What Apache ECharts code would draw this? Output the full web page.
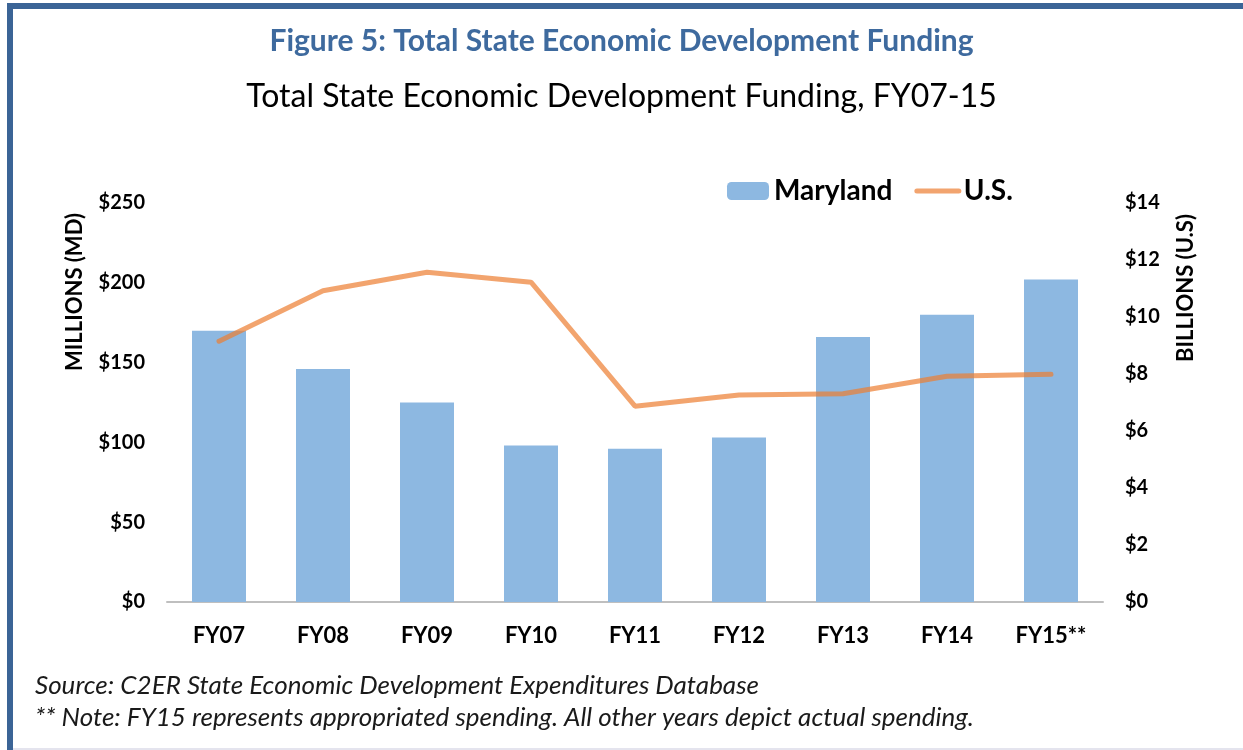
<!DOCTYPE html>
<html style="height: 100%">

<head>
    <meta charset="utf-8">
    <script src="https://cdn.jsdelivr.net/npm/echarts@6/dist/echarts.min.js"></script>
</head>

<body style="height: 100%; margin: 0; background: #fff">
    <div id="container" style="width: 1243px; height: 750px"></div>

    <script type="text/javascript">
        // fiscal years on the x axis
        var years = ['FY07', 'FY08', 'FY09', 'FY10', 'FY11', 'FY12', 'FY13', 'FY14', 'FY15**'];
        // Maryland, millions of dollars (left axis)
        var maryland = [170, 146, 125, 98, 96, 103, 166, 180, 202];
        // U.S. total, billions of dollars (right axis)
        var us = [9.15, 10.92, 11.57, 11.22, 6.87, 7.26, 7.31, 7.92, 7.99];

        var font = 'Lato';
        var frameColor = '#3B6496';

        var dom = document.getElementById("container");
        var myChart = echarts.init(dom);
        var option = {
            backgroundColor: '#fff',
            animation: false,
            title: [{
                text: 'Figure 5: Total State Economic Development Funding',
                left: 'center',
                top: 21,
                textStyle: { fontFamily: font, fontSize: 30, fontWeight: 'bold', color: '#3E6A9E' }
            }, {
                text: 'Total State Economic Development Funding, FY07-15',
                left: 'center',
                top: 76,
                textStyle: { fontFamily: font, fontSize: 32, fontWeight: 'normal', color: '#000' }
            }, {
                text: 'Source: C2ER State Economic Development Expenditures Database',
                left: 30,
                top: 668,
                textStyle: { fontFamily: font, fontSize: 26, fontStyle: 'italic', fontWeight: 'normal', color: '#1a1a1a' }
            }, {
                text: '** Note: FY15 represents appropriated spending. All other years depict actual spending.',
                left: 30,
                top: 700,
                textStyle: { fontFamily: font, fontSize: 26, fontStyle: 'italic', fontWeight: 'normal', color: '#1a1a1a' }
            }],
            legend: {
                left: 722,
                top: 172,
                itemWidth: 42,
                itemHeight: 18,
                itemGap: 22,
                textStyle: { fontFamily: font, fontSize: 28, fontWeight: 'bold', color: '#000' },
                data: ['Maryland', {
                    name: 'U.S.',
                    itemStyle: { opacity: 0 },
                    lineStyle: { width: 5, color: '#F2A46F', opacity: 1, cap: 'round' }
                }]
            },
            grid: { left: 167, right: 140, top: 203, bottom: 148, containLabel: false },
            xAxis: {
                type: 'category',
                data: years,
                axisLine: { lineStyle: { color: '#BFBFBF', width: 2 } },
                axisTick: { show: false },
                axisLabel: { fontFamily: font, fontSize: 22, fontWeight: 'bold', color: '#000', margin: 23 }
            },
            yAxis: [{
                type: 'value',
                min: 0,
                max: 250,
                interval: 50,
                splitLine: { show: false },
                axisLine: { show: false },
                axisTick: { show: false },
                axisLabel: { fontFamily: font, fontSize: 20, fontWeight: 'bold', color: '#000', margin: 22, formatter: '${value}' }
            }, {
                type: 'value',
                min: 0,
                max: 14,
                interval: 2,
                splitLine: { show: false },
                axisLine: { show: false },
                axisTick: { show: false },
                axisLabel: { fontFamily: font, fontSize: 20, fontWeight: 'bold', color: '#000', margin: 22, formatter: '${value}' }
            }],
            series: [{
                name: 'Maryland',
                type: 'bar',
                data: maryland,
                barWidth: 54,
                itemStyle: { color: '#8DB8E1' }
            }, {
                name: 'U.S.',
                type: 'line',
                yAxisIndex: 1,
                data: us,
                symbol: 'none',
                lineStyle: { color: '#ED7D31', width: 5, opacity: 0.7, cap: 'round' },
                itemStyle: { color: '#F2A46F' }
            }],
            graphic: [{
                type: 'rect',
                shape: { x: 8, y: 3, width: 1235, height: 6 },
                style: { fill: frameColor }
            }, {
                type: 'rect',
                shape: { x: 7, y: 3, width: 6, height: 747 },
                style: { fill: frameColor }
            }, {
                type: 'rect',
                shape: { x: 13, y: 748, width: 1230, height: 2 },
                style: { fill: '#E4E4EE' }
            }, {
                type: 'text',
                x: 75,
                y: 292,
                rotation: Math.PI / 2,
                style: {
                    text: 'MILLIONS (MD)',
                    fontFamily: font, fontSize: 22, fontWeight: 'bold', fill: '#000',
                    align: 'center', verticalAlign: 'middle'
                }
            }, {
                type: 'text',
                x: 1186,
                y: 288,
                rotation: Math.PI / 2,
                style: {
                    text: 'BILLIONS (U.S)',
                    fontFamily: font, fontSize: 22, fontWeight: 'bold', fill: '#000',
                    align: 'center', verticalAlign: 'middle'
                }
            }]
        };
        myChart.setOption(option, true);
    </script>
</body>

</html>
